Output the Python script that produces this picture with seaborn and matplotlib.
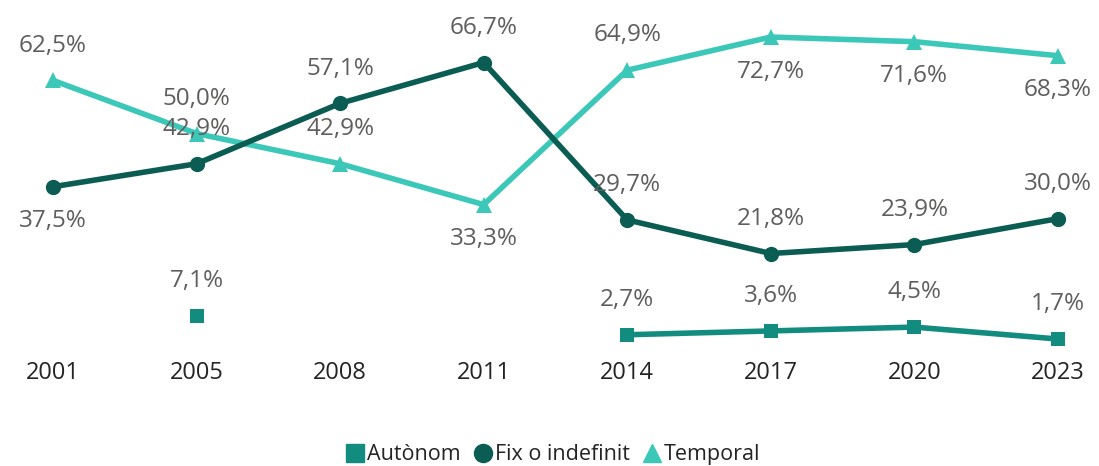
import numpy as np
import pandas as pd
import matplotlib
matplotlib.use("Agg")
import matplotlib.pyplot as plt
from matplotlib.lines import Line2D
import seaborn as sns

years = ["2001", "2005", "2008", "2011", "2014", "2017", "2020", "2023"]
autonom = [np.nan, 7.1, np.nan, np.nan, 2.7, 3.6, 4.5, 1.7]
fix = [37.5, 42.9, 57.1, 66.7, 29.7, 21.8, 23.9, 30.0]
temporal = [62.5, 50.0, 42.9, 33.3, 64.9, 72.7, 71.6, 68.3]

# where each data label sits (1 = above point, -1 = below)
pos_autonom = [1, 1, 1, 1, 1, 1, 1, 1]
pos_fix = [-1, 1, 1, 1, 1, 1, 1, 1]
pos_temporal = [1, 1, 1, -1, 1, -1, -1, -1]

c_aut = "#118C7F"
c_fix = "#0B5D54"
c_tem = "#3CC8B9"
c_lab = "#605E5C"

sns.set_style("white")
plt.rcParams["font.family"] = ["Open Sans", "DejaVu Sans"]

fig = plt.figure(figsize=(10.99, 4.66), dpi=100)
ax = fig.add_axes([0, 0.2382, 1, 0.7618])

x = np.arange(len(years))
df = pd.DataFrame({"x": x, "Autònom": autonom, "Fix o indefinit": fix, "Temporal": temporal})

sns.lineplot(data=df, x="x", y="Temporal", color=c_tem, lw=4, marker="^",
             markersize=11, markeredgewidth=0, ax=ax)
sns.lineplot(data=df, x="x", y="Fix o indefinit", color=c_fix, lw=4, marker="o",
             markersize=11, markeredgewidth=0, ax=ax)
# Autònom has a gap after 2005, draw the connected part and the lone point apart
cont = df[df["x"] >= 4]
sns.lineplot(data=cont, x="x", y="Autònom", color=c_aut, lw=4, marker="s",
             markersize=10, markeredgewidth=0, ax=ax)
lone = df[df["x"] == 1]
sns.scatterplot(data=lone, x="x", y="Autònom", color=c_aut, marker="s", s=100,
                linewidth=0, ax=ax)

for vals, poss in [(autonom, pos_autonom), (fix, pos_fix), (temporal, pos_temporal)]:
    for i, (v, p) in enumerate(zip(vals, poss)):
        if np.isnan(v):
            continue
        ax.annotate(f"{v:.1f}%".replace(".", ","), (i, v), xytext=(0, 25 * p),
                    textcoords="offset points", ha="center", va="center",
                    fontsize=17.5, color=c_lab)

ax.set_xlim(-0.369, 7.286)
ax.set_ylim(-2.06, 81.4)
ax.set_xticks(x)
ax.set_xticklabels(years)
ax.tick_params(axis="x", length=0, pad=4, labelsize=17, labelcolor="#252423")
ax.set_yticks([])
ax.set_xlabel("")
ax.set_ylabel("")
for s in ax.spines.values():
    s.set_visible(False)

handles = [
    Line2D([], [], color=c_aut, marker="s", ls="", markersize=13),
    Line2D([], [], color=c_fix, marker="o", ls="", markersize=13),
    Line2D([], [], color=c_tem, marker="^", ls="", markersize=13),
]
fig.legend(handles, ["Autònom", "Fix o indefinit", "Temporal"], loc="center",
           bbox_to_anchor=(0.502, 0.024), ncol=3, frameon=False, fontsize=15.5,
           handletextpad=0.0, columnspacing=0.5, handlelength=1.1,
           labelcolor="#252423")

fig.savefig("out.png", dpi=100)
